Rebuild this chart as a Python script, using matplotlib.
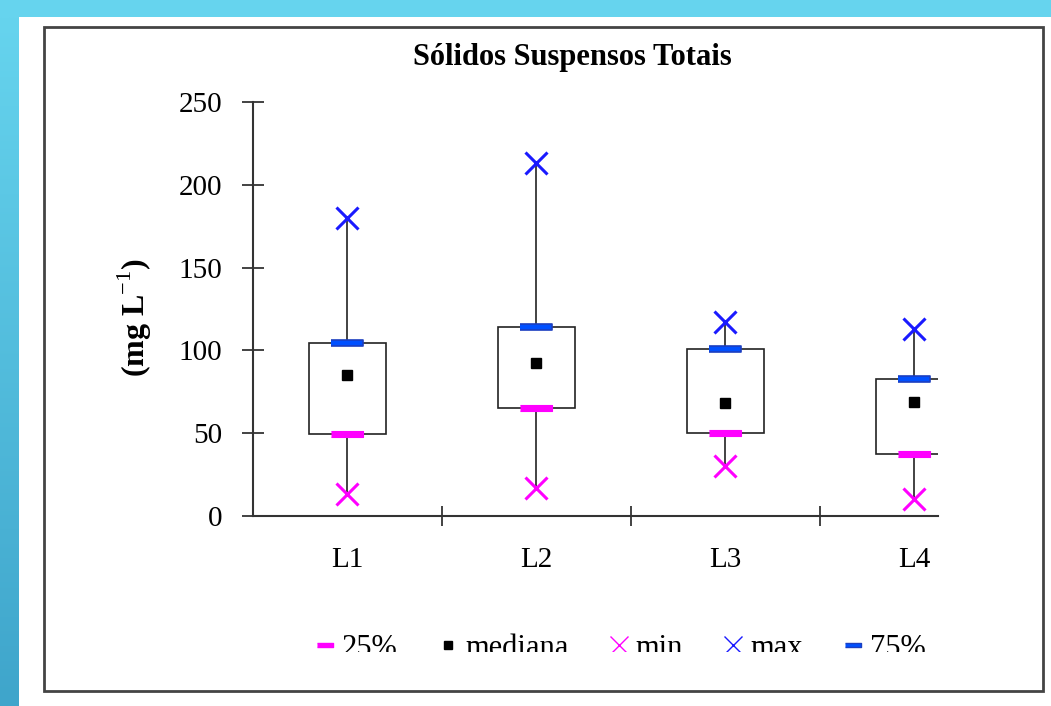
import numpy as np
import matplotlib
matplotlib.use('Agg')
import matplotlib.pyplot as plt
from matplotlib.lines import Line2D
from matplotlib.patches import Rectangle

plt.rcParams['font.family'] = ['Liberation Serif', 'DejaVu Serif']
plt.rcParams['mathtext.fontset'] = 'custom'
plt.rcParams['mathtext.rm'] = 'Liberation Serif'
plt.rcParams['mathtext.bf'] = 'Liberation Serif:bold'

# Data
categories = ['L1', 'L2', 'L3', 'L4']
q25 = [49.5, 65.5, 50, 37.5]
median = [85, 92.5, 68, 69]
q75 = [104.5, 114, 101, 82.5]
vmin = [13, 17, 30, 10]
vmax = [180, 213, 117, 113]
yticks = [0, 50, 100, 150, 200, 250]

W, H = 1051, 706
fig = plt.figure(figsize=(W / 100, H / 100), dpi=100)

# background: cyan band on top, gradient band on the left
bg = fig.add_axes([0, 0, 1, 1], zorder=-10)
bg.axis('off')
bg.add_patch(Rectangle((0, 0), W, H, facecolor='white', edgecolor='none', zorder=0))
bg.add_patch(Rectangle((0, 0), W, 17, facecolor='#66d4ee', edgecolor='none', zorder=1))
grad = np.linspace(0, 1, 256).reshape(-1, 1)
cmap = matplotlib.colors.LinearSegmentedColormap.from_list('band', ['#66d4ee', '#3fa5cb'])
bg.imshow(grad, cmap=cmap, extent=(0, 19, H, 17), aspect='auto', zorder=2)
bg.add_patch(Rectangle((44, 27), 999, 664, facecolor='none', edgecolor='#444444', lw=2, zorder=3))
bg.set_xlim(0, W)
bg.set_ylim(H, 0)

# plot area
left, right, top, bottom = 253, 938, 102, 516
ax = fig.add_axes([left / W, 1 - bottom / H, (right - left) / W, (bottom - top) / H])
ax.set_facecolor('none')
x = np.arange(1, len(categories) + 1)

ax.bar(x, np.array(q75) - np.array(q25), bottom=q25, width=0.41,
       facecolor='none', edgecolor='#222222', lw=1.2, zorder=2)
ax.vlines(x, vmin, q25, color='#222222', lw=1.2, zorder=2)
ax.vlines(x, q75, vmax, color='#222222', lw=1.2, zorder=2)

bar_marker = [(-5.3, -1), (5.3, -1), (5.3, 1), (-5.3, 1)]
ax.plot(x, q25, ls='none', marker=bar_marker, ms=23, mfc='#ff00ff', mec='#ff00ff', mew=0.8, zorder=4)
ax.plot(x, median, ls='none', marker='s', ms=7.5, color='black', zorder=4)
ax.plot(x, vmin, ls='none', marker='x', ms=16, mew=2.2, color='#ff00ff', zorder=4)
ax.plot(x, vmax, ls='none', marker='x', ms=16, mew=2.2, color='#1a1aff', zorder=4)
ax.plot(x, q75, ls='none', marker=bar_marker, ms=23, mfc='#0050ff', mec='#1c3fc0', mew=1.2, zorder=4)

ax.set_ylim(0, 250)
ax.set_xlim(0.5, 4.125)
ax.set_yticks(yticks)
ax.set_xticks(x)
ax.set_xticklabels(categories)
ax.set_xticks(np.arange(1.5, 4, 1), minor=True)
ax.tick_params(axis='y', direction='inout', length=16, width=1.2, labelsize=21, pad=14, color='#222222')
ax.tick_params(axis='x', which='major', length=0, labelsize=21, pad=22)
ax.tick_params(axis='x', which='minor', direction='inout', length=14, width=1.2, color='#222222')
for s in ['top', 'right']:
    ax.spines[s].set_visible(False)
for s in ['left', 'bottom']:
    ax.spines[s].set_color('#333333')
    ax.spines[s].set_linewidth(1.5)

fig.text(572 / W, 1 - 57 / H, 'Sólidos Suspensos Totais', ha='center', va='center',
         fontsize=22, fontweight='bold')
fig.text(135 / W, 1 - 318 / H, r'(mg L$^{-1}$)', ha='center', va='center',
         rotation=90, fontsize=23, fontweight='bold')

handles = [
    Line2D([], [], ls='none', marker=bar_marker, ms=12, mfc='#ff00ff', mec='#ff00ff'),
    Line2D([], [], ls='none', marker='s', ms=6, color='black'),
    Line2D([], [], ls='none', marker='x', ms=13, mew=1, color='#ff00ff'),
    Line2D([], [], ls='none', marker='x', ms=13, mew=1, color='#1a1aff'),
    Line2D([], [], ls='none', marker=bar_marker, ms=12, mfc='#0050ff', mec='#1c3fc0'),
]
labels = ['25%', 'mediana', 'min', 'max', '75%']
fig.legend(handles, labels, loc='center', bbox_to_anchor=(620 / W, 1 - 648 / H), ncol=5,
           frameon=False, fontsize=22, handlelength=0.7, handletextpad=0.2, columnspacing=1.3)

# the legend text is cut off at the bottom in the original
fig.patches.append(Rectangle((300 / W, 1 - 685 / H), 650 / W, 33 / H, transform=fig.transFigure,
                             facecolor='white', edgecolor='none', zorder=10))

fig.savefig('out.png', dpi=100)
